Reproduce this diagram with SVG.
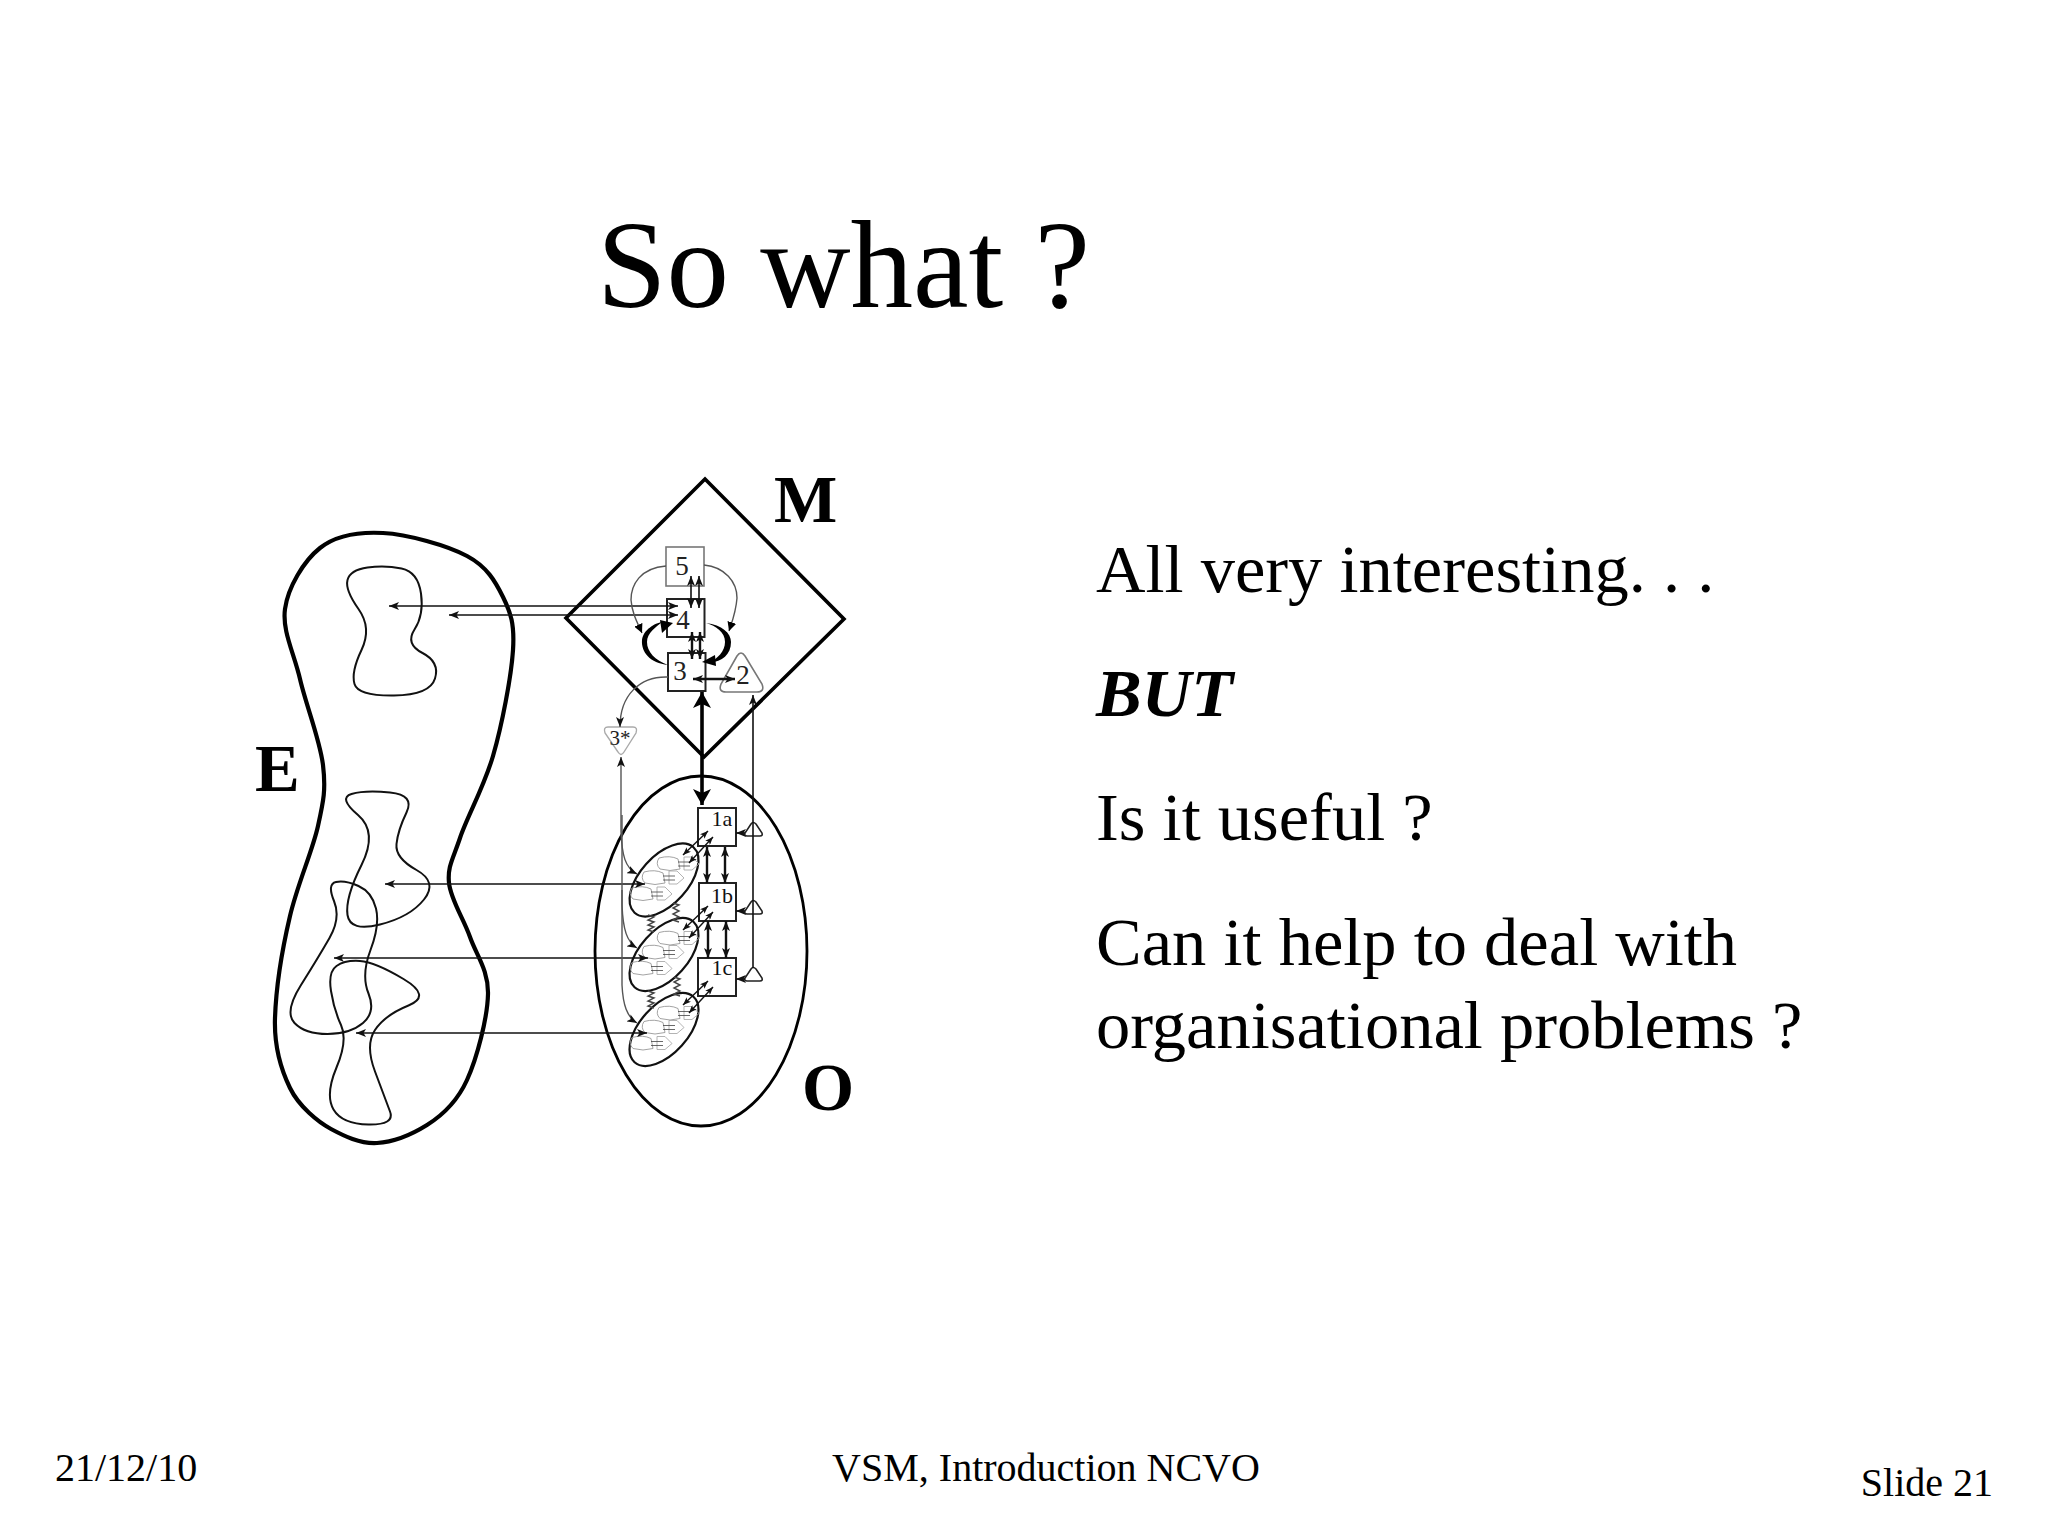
<svg xmlns="http://www.w3.org/2000/svg" xmlns:xlink="http://www.w3.org/1999/xlink" width="2048" height="1536" viewBox="0 0 2048 1536">
<style>
text{font-family:"Liberation Serif","Times New Roman",serif;fill:#000}
.title{font-size:125px}
.body{font-size:68.500px}
.foot{font-size:40px}
.big{font-size:67px;font-weight:bold}
.lab{font-size:27px;fill:#222;text-anchor:middle}
.sm{font-size:22px;fill:#111;text-anchor:middle}
.thick{fill:none;stroke:#000;stroke-width:4.200}
.thin{fill:none;stroke:#111;stroke-width:2}
.box{fill:none;stroke:#222;stroke-width:2}
.gray{fill:none;stroke:#777;stroke-width:1.600}
.ln{fill:none;stroke:#111;stroke-width:1.600;marker-end:url(#a);marker-start:url(#a)}
.ds{fill:none;stroke:#111;stroke-width:1.400;marker-end:url(#s);marker-start:url(#s)}
.le{fill:none;stroke:#111;stroke-width:1.600;marker-end:url(#a)}
.lg{fill:none;stroke:#555;stroke-width:1.400;marker-end:url(#a)}
.lf{fill:none;stroke:#555;stroke-width:1.400;marker-end:url(#f)}
.b{fill:none;stroke:#111;stroke-width:2.400;marker-end:url(#a);marker-start:url(#a)}
.sp{fill:none;stroke:#444;stroke-width:1.400}
</style>
<defs>
<marker id="a" viewBox="0 0 10 8" refX="10" refY="4" markerWidth="10" markerHeight="8" markerUnits="userSpaceOnUse" orient="auto-start-reverse"><path d="M0,0L10,4L0,8L2.500,4Z" fill="#111"/></marker>
<marker id="s" viewBox="0 0 10 8" refX="10" refY="4" markerWidth="8" markerHeight="6.400" markerUnits="userSpaceOnUse" orient="auto-start-reverse"><path d="M0,0L10,4L0,8L2.500,4Z" fill="#111"/></marker>
<marker id="f" viewBox="0 0 10 10" refX="10" refY="5" markerWidth="9" markerHeight="9" markerUnits="userSpaceOnUse" orient="auto"><path d="M0,0L10,5L0,10Z" fill="#000"/></marker>
<marker id="t" viewBox="0 0 16 18" refX="16" refY="9" markerWidth="16" markerHeight="18" markerUnits="userSpaceOnUse" orient="auto-start-reverse"><path d="M0,0L16,9L0,18L4,9Z" fill="#000"/></marker>
<g id="unit">
<path d="M-11,-6Q0,-9 8,-5L10,5Q0,8 -10,5Q-15,0 -11,-6Z" fill="none" stroke="#999" stroke-width="0.900"/>
<path d="M14,-7H22L29,0L22,6H14Z" fill="none" stroke="#aaa" stroke-width="0.900"/>
<path d="M8,-2L20,-2M20,2L8,2" stroke="#444" stroke-width="0.800" fill="none"/>
</g>
<g id="cluster">
<ellipse cx="0" cy="0" rx="44" ry="24" transform="rotate(-48)" fill="none" stroke="#111" stroke-width="2.200"/>
<use xlink:href="#unit" href="#unit" x="6" y="-16"/>
<use xlink:href="#unit" href="#unit" x="-9" y="-2"/>
<use xlink:href="#unit" href="#unit" x="-21" y="14"/>
</g>
</defs>
<rect width="2048" height="1536" fill="#fff"/>
<g id="slide-text">
<text class="title" x="597" y="307">So what ?</text>
<text class="body" x="1096" y="592">All very interesting. . .</text>
<text class="body" x="1096" y="716" font-weight="bold" font-style="italic">BUT</text>
<text class="body" x="1096" y="840">Is it useful ?</text>
<text class="body" x="1096" y="965">Can it help to deal with</text>
<text class="body" x="1096" y="1048">organisational problems ?</text>
<text class="foot" x="55" y="1481">21/12/10</text>
<text class="foot" x="1046" y="1481" text-anchor="middle">VSM, Introduction NCVO</text>
<text class="foot" x="1993" y="1496" text-anchor="end">Slide 21</text>
</g>
<g id="environment">
<path class="thick" d="M285,609C282,631 294,653 300,679S320,740 323,765S323.500,801 318,826S297.500,884 290,916S276,989 275,1018S281,1069.500 290,1088S318,1122 331,1129S360,1144 377,1143S411,1135 427,1125S457,1102 467,1080S487.500,1018 488,994S476.500,955.500 470,937S450.700,899.500 449,883S453,859 460,838S484,787 493,756S511.300,676.500 513,650S510.700,612.700 503,597S487,566.700 467,556S407.500,534.300 383,533S336,535.300 320,548S288,587 285,609Z"/>
<text class="big" x="255" y="791">E</text>
</g>
<g id="environment-blobs">
<path class="thin" d="M347.500,580Q345,590 358.500,609Q372,628 361.500,650Q351,672 354.500,684Q358,696 394,695.500Q430,695 435,678.500Q440,662 422.500,653Q405,644 414.500,629.500Q424,615 421,593.500Q418,572 401.500,568.500Q385,565 367.500,567.500Q350,570 347.500,580Z"/>
<path class="thin" d="M351.500,794Q338,798 358,815Q378,832 361.500,865Q345,898 347.500,915Q350,932 380,924.500Q410,917 424,899.500Q438,882 416.500,870Q395,858 396.500,844Q398,830 406.500,812.500Q415,795 390,792.500Q365,790 351.500,794Z"/>
<path class="thin" d="M336,882Q327,884 334,901Q341,918 329.500,938Q318,958 301,985Q284,1012 294.500,1023Q305,1034 327.500,1034Q350,1034 363,1023Q376,1012 368.500,993.500Q361,975 370.500,950Q380,925 376,908.500Q372,892 358.500,886Q345,880 336,882Z"/>
<path class="thin" d="M336.500,966Q328,972 331,991Q334,1010 341,1025Q348,1040 336.500,1067.500Q325,1095 333.500,1109.500Q342,1124 368.500,1124.500Q395,1125 390,1111.500Q385,1098 375,1071.500Q365,1045 375,1030Q385,1015 408.500,1005.500Q432,996 403.500,979Q375,962 360,961Q345,960 336.500,966Z"/>
</g>
<g id="metasystem">
<path d="M705,479L844,619L704,757L566,618Z" fill="none" stroke="#000" stroke-width="3.600" stroke-linejoin="miter"/>
<text class="big" x="774" y="522">M</text>
</g>
<g id="operations">
<ellipse cx="701" cy="951" rx="106" ry="175" fill="none" stroke="#000" stroke-width="2.800"/>
<text class="big" x="802" y="1110">O</text>
</g>
<g id="sys5"><rect x="666" y="547" width="38" height="39" fill="none" stroke="#777" stroke-width="1.600"/><text class="lab" x="682" y="575">5</text></g>
<g id="sys4"><rect x="667" y="599" width="37.500" height="38" class="box"/><text class="lab" x="683" y="629">4</text></g>
<g id="sys3"><rect x="668" y="653" width="37.500" height="38" class="box"/><text class="lab" x="680" y="680">3</text></g>
<g id="sys2"><path class="gray" d="M737,656Q741,650 745,656L762,684Q765,692 757,692H726Q718,692 721,684Z"/><text class="lab" x="743" y="684">2</text></g>
<g id="sys3star"><path d="M608,727H633Q638,727 636,733L624,752Q621,757 618,752L605,733Q603,727 608,727Z" fill="none" stroke="#aaa" stroke-width="1.400"/><text class="lab" x="620" y="745" style="font-size:21px">3*</text></g>
<g id="unit-1a"><rect x="698" y="808" width="38" height="38" class="box"/><text class="sm" x="722" y="826">1a</text></g>
<g id="unit-1b"><rect x="699" y="883" width="37" height="38" class="box"/><text class="sm" x="722" y="903">1b</text></g>
<g id="unit-1c"><rect x="698" y="958" width="38" height="38" class="box"/><text class="sm" x="722" y="975">1c</text></g>
<g id="tri-1a"><path class="box" style="stroke-width:1.600" d="M751,824Q753,821 756,824L762,833Q763,836 760,836H747Q744,836 745,833Z"/></g>
<g id="tri-1b"><path class="box" style="stroke-width:1.600" d="M751,902Q753,899 756,902L762,911Q763,914 760,914H747Q744,914 745,911Z"/></g>
<g id="tri-1c"><path class="box" style="stroke-width:1.600" d="M751,969Q753,966 756,969L762,978Q763,981 760,981H747Q744,981 745,978Z"/></g>
<use id="cluster-a" xlink:href="#cluster" href="#cluster" x="664" y="880"/>
<use id="cluster-b" xlink:href="#cluster" href="#cluster" x="664" y="954.500"/>
<use id="cluster-c" xlink:href="#cluster" href="#cluster" x="664" y="1029.500"/>
<g id="connectors">
<path class="ln" d="M389,606H678"/>
<path class="ln" d="M449,615H678"/>
<path class="ln" d="M385,884H645"/>
<path class="ln" d="M334,958H648"/>
<path class="ln" d="M356,1033H647"/>
<path class="ln" d="M691,576V608"/>
<path class="ln" d="M699,576V608"/>
<path class="b" d="M692,632V659"/>
<path class="b" d="M700,632V659"/>
<path class="b" d="M693,679H735"/>
<path class="lf" d="M666,566C640,568 631,585 631,600C632,613 637,622 642,633"/>
<path class="lf" d="M704,565C725,567 737,582 737,598C736,612 732,622 729,631"/>
<path fill="#000" d="M668,665C650,663 641,652 642,640C643,630 655,623 662,622C656,627 647,633 647,642C647,652 655,660 668,665Z"/>
<path fill="#000" d="M660,620L673,623L662,633Z"/>
<path fill="#000" d="M706,623C722,625 731,633 731,642C731,655 722,661 710,663C717,658 725,652 725,642C725,632 716,626 706,623Z"/>
<path fill="#000" d="M702,662L715,655L716,666Z"/>
<path class="lg" d="M668,677C640,676 620,695 620,727"/>
<path class="lg" d="M621,832V757"/>
<path class="lg" d="M621,832C622,855 625,868 637,874"/>
<path class="lg" d="M622,815V905C623,930 627,942 637,948"/>
<path class="lg" d="M622,890V985C623,1005 627,1017 637,1023"/>
<path d="M702,692V805" fill="none" stroke="#000" stroke-width="3.600" marker-start="url(#t)" marker-end="url(#t)"/>
<path class="le" d="M753,968V695"/>
<path class="le" d="M745,833H736"/>
<path class="le" d="M745,911H736"/>
<path class="le" d="M745,979H736"/>
<path class="b" d="M707,847V883"/>
<path class="b" d="M725,847V883"/>
<path class="b" d="M708,921V958"/>
<path class="b" d="M726,921V958"/>
<path class="ds" d="M708,831L683,855"/>
<path class="ds" d="M713,837L689,863"/>
<path class="ds" d="M708,906L683,930"/>
<path class="ds" d="M713,912L689,938"/>
<path class="ds" d="M708,981L683,1005"/>
<path class="ds" d="M713,987L689,1013"/>
<path class="sp" d="M648,915L654,917L648,920L654,922L648,925L654,927L648,930L654,932"/>
<path class="sp" d="M673,903L679,905L673,908L679,911L673,914L679,917L673,920L679,922"/>
<path class="sp" d="M648,991L654,993L648,996L654,998L648,1001L654,1003L648,1006L654,1008"/>
<path class="sp" d="M674,977L680,979L674,982L680,985L674,988L680,991L674,994L680,996"/>
</g>
</svg>
